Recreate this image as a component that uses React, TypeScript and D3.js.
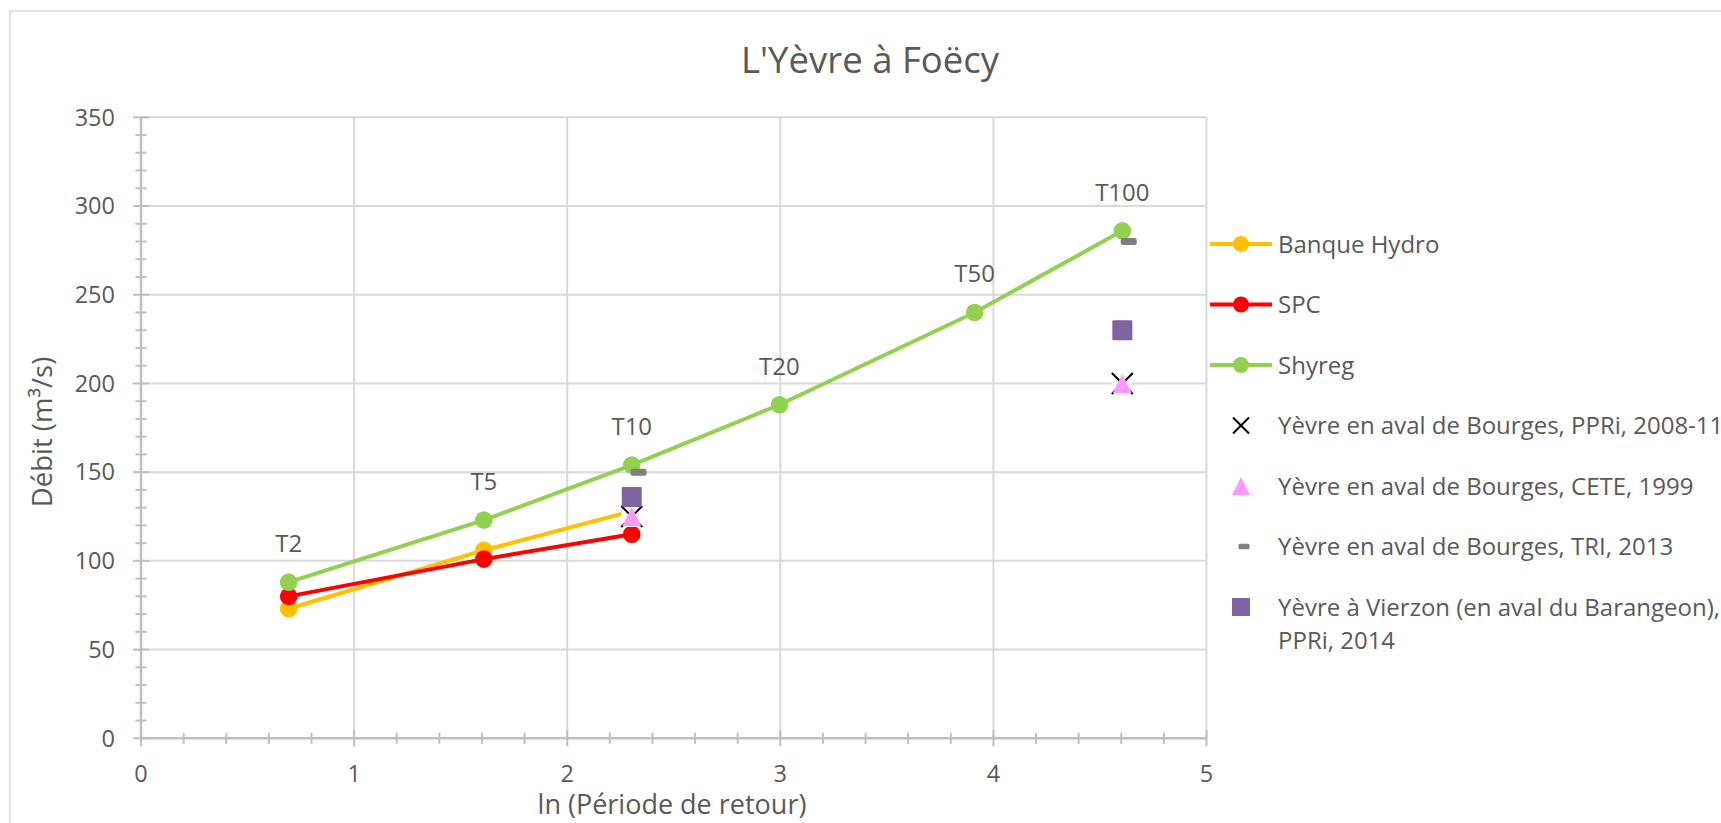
import React from "react";
import * as d3 from "d3";

const W = 1721;
const H = 823;

const title = "L'Yèvre à Foëcy";
const yAxisTitle = "Débit (m³/s)";
const xAxisTitle = "ln (Période de retour)";

const periods = ["T2", "T5", "T10", "T20", "T50", "T100"];
const lnT = [0.693, 1.609, 2.303, 2.996, 3.912, 4.605];

const banqueHydro = [73, 106, 128];
const spc = [80, 101, 115];
const shyreg = [88, 123, 154, 188, 240, 286];

const ppriX = [2.303, 4.605];
const ppriY = [125, 200];
const ceteX = [2.303, 4.605];
const ceteY = [125, 200];
const triX = [2.335, 4.635];
const triY = [150, 280];
const vierzonX = [2.303, 4.605];
const vierzonY = [136, 230];

const xTicks = [0, 1, 2, 3, 4, 5];
const yTicks = [0, 50, 100, 150, 200, 250, 300, 350];

const legendItems = [
  { label: ["Banque Hydro"], type: "line", color: "#FFC000" },
  { label: ["SPC"], type: "line", color: "#FF0000" },
  { label: ["Shyreg"], type: "line", color: "#92D050" },
  { label: ["Yèvre en aval de Bourges, PPRi, 2008-11"], type: "x", color: "#000000" },
  { label: ["Yèvre en aval de Bourges, CETE, 1999"], type: "tri", color: "#FF99FF" },
  { label: ["Yèvre en aval de Bourges, TRI, 2013"], type: "dash", color: "#7F7F7F" },
  { label: ["Yèvre à Vierzon (en aval du Barangeon),", "PPRi, 2014"], type: "sq", color: "#8064A2" },
];

const FONT = "'Open Sans', 'Noto Sans', sans-serif";
const TXT = "#595959";
const GRID = "#D9D9D9";
const AXIS = "#BFBFBF";

function XMark({ cx, cy, s }: { cx: number; cy: number; s: number }) {
  const h = s / 2;
  return (
    <g>
      <rect x={cx - h} y={cy - h} width={s} height={s} fill="#fff" />
      <line x1={cx - h} y1={cy - h} x2={cx + h} y2={cy + h} stroke="#000" strokeWidth={2} />
      <line x1={cx - h} y1={cy + h} x2={cx + h} y2={cy - h} stroke="#000" strokeWidth={2} />
    </g>
  );
}

function Tri({ cx, cy, s, color }: { cx: number; cy: number; s: number; color: string }) {
  const h = s / 2;
  const p = d3.path();
  p.moveTo(cx, cy - h);
  p.lineTo(cx + h, cy + h);
  p.lineTo(cx - h, cy + h);
  p.closePath();
  return <path d={p.toString()} fill={color} />;
}

export default function App() {
  const x = d3.scaleLinear().domain([0, 5]).range([141, 1206.5]);
  const y = d3.scaleLinear().domain([0, 350]).range([738.3, 117.3]);

  const line = d3
    .line<[number, number]>()
    .x((d) => x(d[0]))
    .y((d) => y(d[1]));

  const series = [
    { vals: banqueHydro, color: "#FFC000" },
    { vals: spc, color: "#FF0000" },
    { vals: shyreg, color: "#92D050" },
  ];

  const xMinor = d3.range(0, 5.0001, 0.2);
  const yMinor = d3.range(0, 350.001, 10);

  const legX = 1241;
  const legTextX = 1278;
  const legY0 = 244;
  const legStep = 60.5;

  return (
    <svg
      width={W}
      height={H}
      style={{ position: "absolute", left: 0, top: 0, background: "#fff" }}
      fontFamily={FONT}
    >
      <rect x={0} y={0} width={W} height={H} fill="#fff" />
      <rect x={10} y={11} width={1900} height={1000} fill="none" stroke={GRID} strokeWidth={1.5} />

      <text x={870} y={73} textAnchor="middle" fontSize={36.5} fill={TXT}>
        {title}
      </text>

      {/* gridlines */}
      {yTicks.filter((t) => t > 0).map((t) => (
        <line key={"gy" + t} x1={x(0)} x2={x(5)} y1={y(t)} y2={y(t)} stroke={GRID} strokeWidth={2} />
      ))}
      {xTicks.filter((t) => t > 0).map((t) => (
        <line key={"gx" + t} x1={x(t)} x2={x(t)} y1={y(0)} y2={y(350)} stroke={GRID} strokeWidth={2} />
      ))}

      {/* axes */}
      <line x1={x(0)} x2={x(0)} y1={y(0)} y2={y(350)} stroke={AXIS} strokeWidth={2.5} />
      <line x1={x(0)} x2={x(5)} y1={y(0)} y2={y(0)} stroke={AXIS} strokeWidth={2.5} />
      {yMinor.map((t) => {
        const major = t % 50 === 0;
        const l = major ? 8 : 5.5;
        return (
          <line key={"ty" + t} x1={x(0) - l} x2={x(0) + l} y1={y(t)} y2={y(t)} stroke={AXIS} strokeWidth={2} />
        );
      })}
      {xMinor.map((t, i) => {
        const major = i % 5 === 0;
        const l = major ? 8 : 5.5;
        return (
          <line key={"tx" + i} x1={x(t)} x2={x(t)} y1={y(0) - l} y2={y(0) + l} stroke={AXIS} strokeWidth={2} />
        );
      })}

      {yTicks.map((t) => (
        <text key={"ly" + t} x={115} y={y(t) + 8.3} textAnchor="end" fontSize={23.5} fill={TXT}>
          {t}
        </text>
      ))}
      {xTicks.map((t) => (
        <text key={"lx" + t} x={x(t)} y={782} textAnchor="middle" fontSize={23.5} fill={TXT}>
          {t}
        </text>
      ))}

      <text x={672} y={814} textAnchor="middle" fontSize={27} fill={TXT}>
        {xAxisTitle}
      </text>
      <text transform="translate(52,432) rotate(-90)" textAnchor="middle" fontSize={27.5} fill={TXT}>
        {yAxisTitle}
      </text>

      {/* line series */}
      {series.map((s, si) => {
        const pts = s.vals.map((v, i) => [lnT[i], v] as [number, number]);
        return (
          <g key={"s" + si}>
            <path d={line(pts) || ""} fill="none" stroke={s.color} strokeWidth={4} />
            {pts.map((p, i) => (
              <circle key={i} cx={x(p[0])} cy={y(p[1])} r={8.8} fill={s.color} />
            ))}
          </g>
        );
      })}

      {/* data labels */}
      {shyreg.map((v, i) => (
        <text key={"dl" + i} x={x(lnT[i])} y={y(v) - 30} textAnchor="middle" fontSize={24} fill={TXT}>
          {periods[i]}
        </text>
      ))}

      {/* scatter series */}
      {ppriX.map((v, i) => (
        <XMark key={"xm" + i} cx={x(v)} cy={y(ppriY[i])} s={21} />
      ))}
      {ceteX.map((v, i) => (
        <Tri key={"tr" + i} cx={x(v)} cy={y(ceteY[i])} s={19} color="#FF99FF" />
      ))}
      {triX.map((v, i) => (
        <rect key={"da" + i} x={x(v) - 8} y={y(triY[i]) - 3.5} width={16} height={7} rx={2} fill="#7F7F7F" />
      ))}
      {vierzonX.map((v, i) => (
        <rect key={"sq" + i} x={x(v) - 10} y={y(vierzonY[i]) - 10} width={20} height={20} rx={1} fill="#8064A2" />
      ))}

      {/* legend */}
      {legendItems.map((it, i) => {
        const cy = legY0 + i * legStep;
        let mark: React.ReactNode = null;
        if (it.type === "line") {
          mark = (
            <g>
              <line x1={1210} x2={1272} y1={cy} y2={cy} stroke={it.color} strokeWidth={4} />
              <circle cx={legX} cy={cy} r={8} fill={it.color} />
            </g>
          );
        } else if (it.type === "x") {
          const h = 8;
          mark = (
            <g>
              <line x1={legX - h} y1={cy - h} x2={legX + h} y2={cy + h} stroke="#000" strokeWidth={2} />
              <line x1={legX - h} y1={cy + h} x2={legX + h} y2={cy - h} stroke="#000" strokeWidth={2} />
            </g>
          );
        } else if (it.type === "tri") {
          mark = <Tri cx={legX} cy={cy} s={18} color={it.color} />;
        } else if (it.type === "dash") {
          mark = <rect x={legX - 5.5 + 3} y={cy - 2.7} width={11} height={5.4} rx={1.5} fill={it.color} />;
        } else {
          mark = <rect x={legX - 9} y={cy - 9} width={18} height={18} fill={it.color} />;
        }
        return (
          <g key={"lg" + i}>
            {mark}
            {it.label.map((l, j) => (
              <text key={j} x={legTextX} y={cy + 8.5 + j * 33.5} fontSize={24} fill={TXT}>
                {l}
              </text>
            ))}
          </g>
        );
      })}
    </svg>
  );
}
